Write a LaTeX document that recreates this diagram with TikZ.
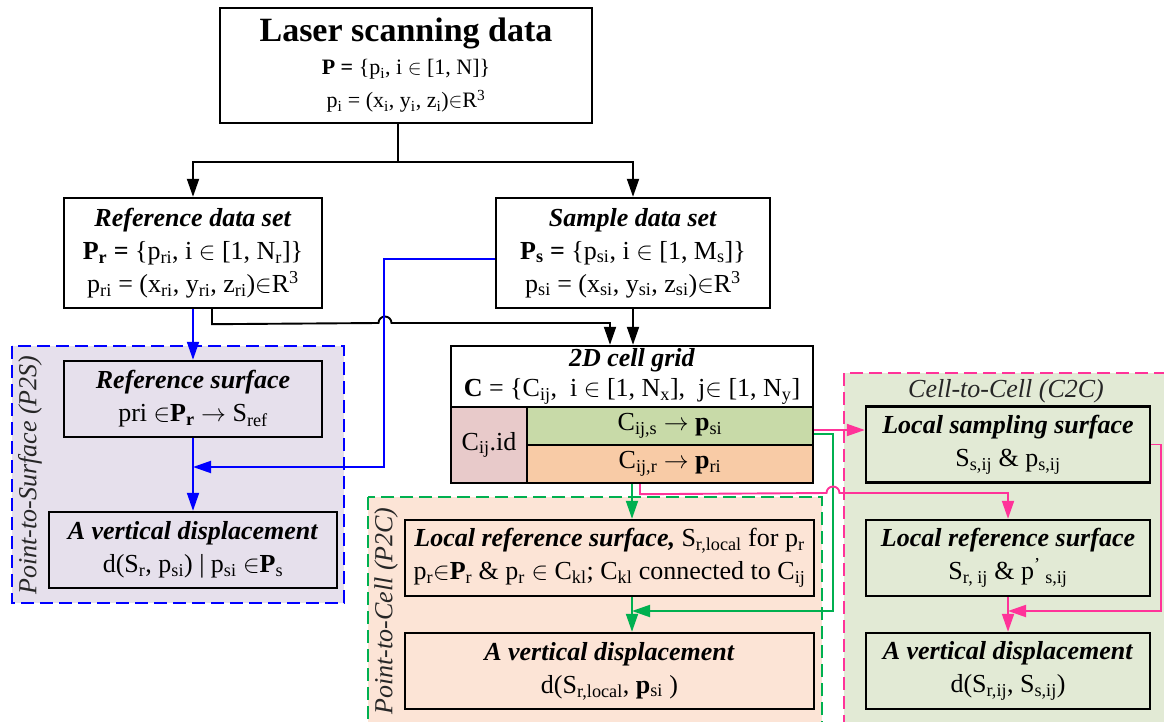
\documentclass[tikz,border=0pt]{standalone}
\usepackage{fontspec}
\setmainfont{Liberation Serif}
\usepackage{tikz}
\usetikzlibrary{arrows.meta}
\definecolor{p2sblue}{RGB}{0,0,255}
\definecolor{p2cgreen}{RGB}{0,176,80}
\definecolor{c2cpink}{RGB}{255,51,153}
\definecolor{p2sfill}{RGB}{230,224,236}
\definecolor{p2cfill}{RGB}{252,228,214}
\definecolor{c2cfill}{RGB}{226,234,213}
\definecolor{idfill}{RGB}{232,202,202}
\definecolor{sfill}{RGB}{200,218,168}
\definecolor{rfill}{RGB}{248,203,166}
\newcommand{\ssub}[1]{\textsubscript{#1}}
\newcommand{\ssup}[1]{\textsuperscript{#1}}
\newcommand{\bit}[1]{\textbf{\textit{#1}}}
\tikzset{
  fc_node/.style = {align=center, inner sep=0pt, text centered,
    font=\fontsize{26}{33}\selectfont},
  fc_box/.style = {fc_node, rectangle, draw=black, line width=2.4pt},% plain box
  fc_big/.style = {fc_box, minimum width=258pt, minimum height=110pt},% data set
  fc_sm/.style = {fc_box, minimum height=76pt},% step inside a region
  reg_p2s/.style = {fill=p2sfill, draw=p2sblue, line width=2.2pt,
    dash pattern=on 13pt off 6pt},
  reg_p2c/.style = {fill=p2cfill, draw=p2cgreen, line width=2.2pt,
    dash pattern=on 13pt off 6pt},
  reg_c2c/.style = {fill=c2cfill, draw=c2cpink, line width=2.2pt,
    dash pattern=on 13pt off 6pt},
  reg_lbl/.style = {fc_node, black!85, font=\fontsize{26}{30}\selectfont\itshape},
  ln_p2s/.style = {draw=p2sblue},
  ln_p2c/.style = {draw=p2cgreen},
  ln_c2c/.style = {draw=c2cpink},
}
\begin{document}
\begin{tikzpicture}[x=1pt,y=-1pt,>={Triangle[length=18pt,width=12pt]},line width=1.9pt]
  \useasboundingbox (0,0) rectangle (1164,722);

  %   regions
  \path[reg_p2s] (12,346) rectangle (344,603);
  \path[reg_p2c] (368,497) rectangle (822,740);
  \path[reg_c2c] (844,373) rectangle (1180,740);
  \node[reg_lbl, rotate=90] (l_p2s) at (30,475) {Point-to-Surface (P2S)};
  \node[reg_lbl, rotate=90] (l_p2c) at (386,611) {Point-to-Cell (P2C)};
  \node[reg_lbl] (l_c2c) at (1006,391) {Cell-to-Cell (C2C)};

  %   input data
  \node[fc_box, line width=2.8pt, minimum width=372pt, minimum height=115pt,
    font=\fontsize{22}{33}\selectfont] (laser) at (406,65.5)
    {{\fontsize{34}{36}\selectfont\bfseries Laser scanning data}\\
     \textbf{P =} \{p\ssub{i}, i $\in$ [1, N]\}\\
     p\ssub{i} = (x\ssub{i}, y\ssub{i}, z\ssub{i})$\in$R\ssup{3}};
  \node[fc_big] (refset) at (193,253)
    {\bit{Reference data set}\\
     \textbf{P\ssub{r} =} \{p\ssub{ri}, i $\in$ [1, N\ssub{r}]\}\\
     p\ssub{ri} = (x\ssub{ri}, y\ssub{ri}, z\ssub{ri})$\in$R\ssup{3}};
  \node[fc_big, minimum width=274pt] (smpset) at (633,253)
    {\bit{Sample data set}\\
     \textbf{P\ssub{s} =} \{p\ssub{si}, i $\in$ [1, M\ssub{s}]\}\\
     p\ssub{si} = (x\ssub{si}, y\ssub{si}, z\ssub{si})$\in$R\ssup{3}};

  %   cell grid
  \node[fc_box, fill=white, minimum width=362pt, minimum height=61pt,
    font=\fontsize{26}{30}\selectfont] (gridtop) at (632,376.5)
    {\bit{2D cell grid}\\
     \textbf{C} = \{C\ssub{ij},~ i $\in$ [1, N\ssub{x}],~ j$\in$ [1, N\ssub{y}]};
  \node[fc_box, fill=idfill, minimum width=76pt, minimum height=76pt] (gridid) at (489,445)
    {C\ssub{ij}.id};
  \node[fc_box, fill=sfill, minimum width=286pt, minimum height=38pt] (grids) at (670,426)
    {C\ssub{ij,s} $\rightarrow$ \textbf{p}\ssub{si}};
  \node[fc_box, fill=rfill, minimum width=286pt, minimum height=38pt] (gridr) at (670,464)
    {C\ssub{ij,r} $\rightarrow$ \textbf{p}\ssub{ri}};

  %   point-to-surface
  \node[fc_sm, minimum width=258pt] (refsurf) at (193,399)
    {\bit{Reference surface}\\ pri $\in$\textbf{P\ssub{r}} $\rightarrow$ S\ssub{ref}};
  \node[fc_sm, minimum width=288pt] (vdp2s) at (193,550)
    {\bit{A vertical displacement}\\
     d(S\ssub{r}, p\ssub{si}) | p\ssub{si} $\in$\textbf{P}\ssub{s}};

  %   point-to-cell
  \node[fc_sm, minimum width=409pt] (lrsp2c) at (609.5,558)
    {\bit{Local reference surface,} S\ssub{r,local} for p\ssub{r}\\
     p\ssub{r}$\in$\textbf{P}\ssub{r} \& p\ssub{r} $\in$ C\ssub{kl}; C\ssub{kl} connected to C\ssub{ij}};
  \node[fc_sm, minimum width=409pt] (vdp2c) at (609.5,671)
    {\bit{A vertical displacement}\\ d(S\ssub{r,local}, \textbf{p}\ssub{si} )};

  %   cell-to-cell
  \node[fc_sm, minimum width=284pt] (lss) at (1008,444.5)
    {\bit{Local sampling surface}\\ S\ssub{s,ij} \& p\ssub{s,ij}};
  \node[fc_sm, minimum width=284pt] (lrsc2c) at (1008,558)
    {\bit{Local reference surface}\\ S\ssub{r, ij} \& p\ssup{'}\ssub{~s,ij}};
  \node[fc_sm, minimum width=284pt] (vdc2c) at (1008,671)
    {\bit{A vertical displacement}\\ d(S\ssub{r,ij}, S\ssub{s,ij})};

  %   black flow
  \coordinate (split) at ([xshift=-8pt]laser.south);
  \draw[->] (split) -- ++(0,38) -| (refset.north);
  \draw[->] (split) -- ++(0,38) -| (smpset.north);
  \draw[->] ([xshift=19pt]refset.south) -- ++(0,15) -- (378.5,323)
    arc(180:0:6.5pt) -| ([xshift=-22pt]gridtop.north);
  \draw[->] (smpset.south) -- (smpset.south |- gridtop.north);

  %   P2S flow
  \coordinate (in_p2s) at (193,467);
  \draw[ln_p2s, ->] (refset.south) -- (refsurf.north);
  \draw[ln_p2s, ->] (refsurf.south) -- (vdp2s.north);
  \draw[ln_p2s, ->] ([yshift=-6pt]smpset.west) -- ++(-111,0) |- (in_p2s);

  %   P2C flow
  \coordinate (in_p2c) at (632,611);
  \draw[ln_p2c, ->] (gridr.south -| gridtop.north) -- (lrsp2c.north -| gridtop.north);
  \draw[ln_p2c, ->] (lrsp2c.south -| gridtop.north) -- (vdp2c.north -| gridtop.north);
  \draw[ln_p2c, ->] ([yshift=-8pt]grids.east) -- ++(19,0) |- (in_p2c);

  %   C2C flow
  \coordinate (out_s) at ([yshift=-4pt]grids.east);
  \coordinate (in_c2c) at (1008,611);
  \draw[ln_c2c, ->] (out_s) -- (out_s -| lss.west);
  \draw[ln_c2c, ->] ([xshift=-30pt]gridr.south) -- ++(0,10) -- (826.5,493)
    arc(180:0:6.5pt) -| (lrsc2c.north);
  \draw[ln_c2c, ->] (lss.east) -- ++(10,0) |- (in_c2c);
  \draw[ln_c2c, ->] (lrsc2c.south) -- (vdc2c.north);
\end{tikzpicture}
\end{document}
